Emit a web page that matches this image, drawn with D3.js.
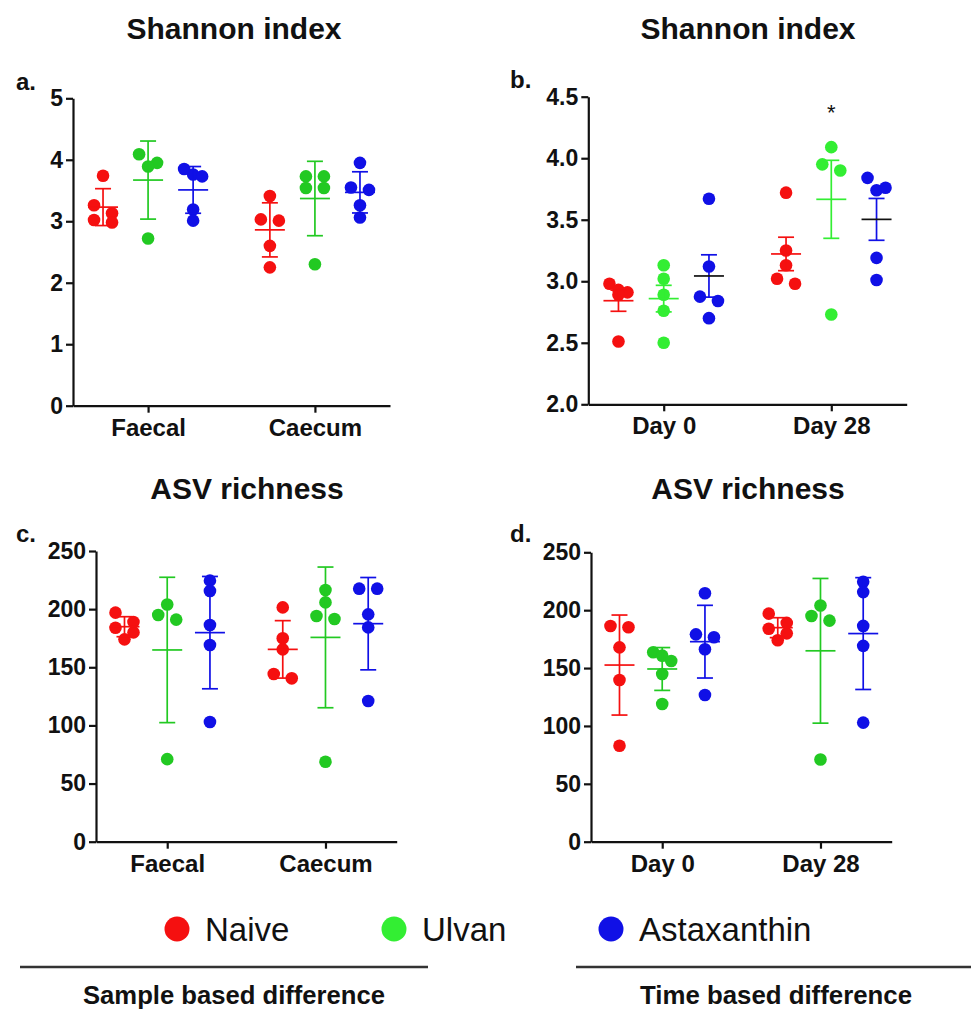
<!DOCTYPE html>
<html>
<head>
<meta charset="utf-8">
<script src="https://cdn.jsdelivr.net/npm/d3@7"></script>
<style>
  body { margin: 0; background: #fff; }
  text { font-family: "Liberation Sans", Arial, sans-serif; }
</style>
</head>
<body>
<script>
// groups and categories
var groups = ["Naive", "Ulvan", "Astaxanthin"];
var sampleCats = ["Faecal", "Caecum"];
var timeCats = ["Day 0", "Day 28"];

// a. Shannon index by sample type: [category][group] -> points
var shannonSample = [
  [[3.74, 3.26, 3.13, 2.98, 3.02], [4.09, 3.95, 3.89, 2.72], [3.76, 3.85, 3.73, 3.19, 3.01]],
  [[3.41, 3.01, 3.03, 2.60, 2.25], [3.73, 3.73, 3.54, 3.54, 2.30], [3.95, 3.51, 3.55, 3.26, 3.06]]
];
var shannonSampleMean = [[3.23, 3.67, 3.51], [2.86, 3.37, 3.47]];
var shannonSampleErr = [[0.30, 0.635, 0.38], [0.44, 0.605, 0.335]];

// b. Shannon index by time point
var shannonTime = [
  [[2.98, 2.93, 2.91, 2.89, 2.51], [3.13, 3.02, 2.89, 2.76, 2.50], [3.67, 3.12, 2.875, 2.84, 2.70]],
  [[3.72, 3.25, 3.13, 2.98, 3.02], [4.09, 3.95, 3.90, 2.73], [3.84, 3.74, 3.76, 3.19, 3.01]]
];
var shannonTimeMean = [[2.842, 2.859, 3.043], [3.222, 3.666, 3.503]];
var shannonTimeErr = [[0.086, 0.108, 0.172], [0.136, 0.317, 0.17]];

// c. ASV richness by sample type
var richSample = [
  [[189, 197, 184, 180, 174], [195, 204, 191, 71], [224.5, 215.6, 186.4, 169.2, 102.9]],
  [[201.5, 174.9, 165.4, 144.2, 140.5], [216.5, 205.8, 194.1, 191.5, 68.8], [217.6, 217.6, 195.5, 184.3, 121]]
];
var richSampleMean = [[184.9, 164.9, 179.8], [165.4, 175.7, 187.5]];
var richSampleErr = [[8.6, 62.5, 48.3], [24.7, 60.5, 39.7]];

// d. ASV richness by time point
var richTime = [
  [[186.3, 185.2, 167.9, 139.7, 82.9], [163.6, 160.7, 156.1, 144.9, 118.9], [214.6, 176.6, 179.1, 166.2, 126.7]],
  [[189, 197, 184, 180, 174], [195, 204, 191, 71], [224.5, 215.6, 186.4, 169.2, 102.9]]
];
var richTimeMean = [[152.6, 149.2, 172.8], [184.9, 164.9, 179.8]];
var richTimeErr = [[43.2, 18.5, 31.4], [8.6, 62.5, 48.3]];

var shannonTicks = [0, 1, 2, 3, 4, 5];
var shannonTimeTicks = [2.0, 2.5, 3.0, 3.5, 4.0, 4.5];
var richTicks = [0, 50, 100, 150, 200, 250];

var RED = "#f51010", GREEN = "#22c922", BRIGHT = "#33ee33", BLUE = "#1010e6";

var svg = d3.select("body").append("svg")
  .attr("width", 971).attr("height", 1010);

// spread points that would collide into rows, like a scatter dot plot
function swarm(vals, y, spread) {
  var order = vals.map(function(v, i){ return i; })
    .sort(function(a, b){ return vals[b] - vals[a]; });
  var rows = [], cur = null;
  order.forEach(function(i){
    var yi = y(vals[i]);
    if (cur && Math.abs(yi - cur.y0) < 10) cur.m.push(i);
    else { cur = {y0: yi, m: [i]}; rows.push(cur); }
  });
  var off = [];
  rows.forEach(function(r){
    var k = r.m.length;
    r.m.forEach(function(i, j){ off[i] = k > 1 ? (j / (k - 1) - 0.5) * spread : 0; });
  });
  return off;
}

function drawPanel(p) {
  var g = svg.append("g");
  var y = d3.scaleLinear().domain(p.domain).range([p.bottom, p.top]);
  var x = d3.scalePoint().domain(p.cats).range([p.left, p.right]).padding(0.45);
  var gx = d3.scalePoint().domain(groups).range([-x.step() * 0.27, x.step() * 0.27]);

  var ya = g.append("g")
    .attr("transform", "translate(" + p.left + ",0)")
    .call(d3.axisLeft(y).tickValues(p.ticks).tickFormat(d3.format(p.fmt))
      .tickSize(7).tickSizeOuter(0).tickPadding(3));
  var xa = g.append("g")
    .attr("transform", "translate(0," + p.bottom + ")")
    .call(d3.axisBottom(x).tickSize(7).tickSizeOuter(0).tickPadding(6));
  [ya, xa].forEach(function(a){
    a.selectAll("path, line").attr("stroke", "#111").attr("stroke-width", 2.2);
    a.selectAll("text").attr("fill", "#111")
      .style("font-family", "'Liberation Sans', Arial, sans-serif")
      .style("font-weight", "bold").style("font-size", "23px");
  });
  xa.selectAll("text").style("font-size", "24px");

  var colors = [RED, p.green, BLUE];

  p.cats.forEach(function(cat, ci){
    groups.forEach(function(grp, gi){
      var vals = p.pts[ci][gi];
      var cx = x(cat) + gx(grp);
      var off = swarm(vals, y, 18);
      g.selectAll(null).data(vals).enter().append("circle")
        .attr("cx", function(d, i){ return cx + off[i]; })
        .attr("cy", function(d){ return y(d); })
        .attr("r", 6.3)
        .attr("fill", colors[gi]);

      var m = p.means[ci][gi], e = p.errs[ci][gi];
      var col = p.meanColors ? p.meanColors[gi] : colors[gi];
      var eb = g.append("g").attr("stroke-width", 1.7);
      eb.append("line").attr("stroke", colors[gi])
        .attr("x1", cx).attr("x2", cx).attr("y1", y(m + e)).attr("y2", y(m - e));
      [m + e, m - e].forEach(function(v){
        eb.append("line").attr("stroke", colors[gi])
          .attr("x1", cx - 8).attr("x2", cx + 8).attr("y1", y(v)).attr("y2", y(v));
      });
      eb.append("line").attr("stroke", col)
        .attr("x1", cx - 15).attr("x2", cx + 15).attr("y1", y(m)).attr("y2", y(m));
    });
  });

  svg.append("text").attr("x", p.titleX).attr("y", p.titleY)
    .attr("text-anchor", "middle").attr("font-weight", "bold")
    .attr("font-size", "30px").attr("fill", "#111").text(p.title);
  svg.append("text").attr("x", p.labelX).attr("y", p.labelY)
    .attr("font-weight", "bold").attr("font-size", "24px").attr("fill", "#111").text(p.label);
  return {x: x, y: y, gx: gx};
}

drawPanel({
  left: 73, right: 390, top: 98.3, bottom: 405.7, domain: [0, 5], ticks: shannonTicks, fmt: "d",
  cats: sampleCats, pts: shannonSample, means: shannonSampleMean, errs: shannonSampleErr,
  green: GREEN, title: "Shannon index", titleX: 234, titleY: 39, label: "a.", labelX: 16, labelY: 90
});

var pb = drawPanel({
  left: 588.3, right: 906.7, top: 96.7, bottom: 404.3, domain: [2, 4.5], ticks: shannonTimeTicks, fmt: ".1f",
  cats: timeCats, pts: shannonTime, means: shannonTimeMean, errs: shannonTimeErr,
  green: BRIGHT, meanColors: [RED, BRIGHT, "#111"],
  title: "Shannon index", titleX: 748, titleY: 39, label: "b.", labelX: 510, labelY: 88
});
// significance mark above Ulvan at Day 28
svg.append("text").attr("x", pb.x("Day 28") + pb.gx("Ulvan")).attr("y", pb.y(4.31))
  .attr("text-anchor", "middle").attr("font-size", "22px").attr("fill", "#111").text("*");

drawPanel({
  left: 96, right: 396.7, top: 551, bottom: 841.7, domain: [0, 250], ticks: richTicks, fmt: "d",
  cats: sampleCats, pts: richSample, means: richSampleMean, errs: richSampleErr,
  green: GREEN, title: "ASV richness", titleX: 247, titleY: 499, label: "c.", labelX: 16, labelY: 542
});

drawPanel({
  left: 591, right: 891.7, top: 552.3, bottom: 841.7, domain: [0, 250], ticks: richTicks, fmt: "d",
  cats: timeCats, pts: richTime, means: richTimeMean, errs: richTimeErr,
  green: GREEN, title: "ASV richness", titleX: 748, titleY: 499, label: "d.", labelX: 510, labelY: 542
});

// legend
var legX = [177, 394, 611];
var legColors = [RED, BRIGHT, BLUE];
groups.forEach(function(grp, i){
  svg.append("circle").attr("cx", legX[i]).attr("cy", 929).attr("r", 12.5).attr("fill", legColors[i]);
  svg.append("text").attr("x", legX[i] + 28).attr("y", 941)
    .attr("font-size", "33px").attr("fill", "#111").text(grp);
});

// section rules and captions
svg.append("line").attr("x1", 20).attr("x2", 428).attr("y1", 967).attr("y2", 967)
  .attr("stroke", "#333").attr("stroke-width", 2.5);
svg.append("line").attr("x1", 576).attr("x2", 971).attr("y1", 967).attr("y2", 967)
  .attr("stroke", "#333").attr("stroke-width", 2.5);
svg.append("text").attr("x", 234).attr("y", 1004).attr("text-anchor", "middle")
  .attr("font-weight", "bold").attr("font-size", "25px").attr("fill", "#111")
  .attr("textLength", 302).attr("lengthAdjust", "spacingAndGlyphs")
  .text("Sample based difference");
svg.append("text").attr("x", 776).attr("y", 1004).attr("text-anchor", "middle")
  .attr("font-weight", "bold").attr("font-size", "25px").attr("fill", "#111")
  .attr("textLength", 272).attr("lengthAdjust", "spacingAndGlyphs")
  .text("Time based difference");
</script>
</body>
</html>
